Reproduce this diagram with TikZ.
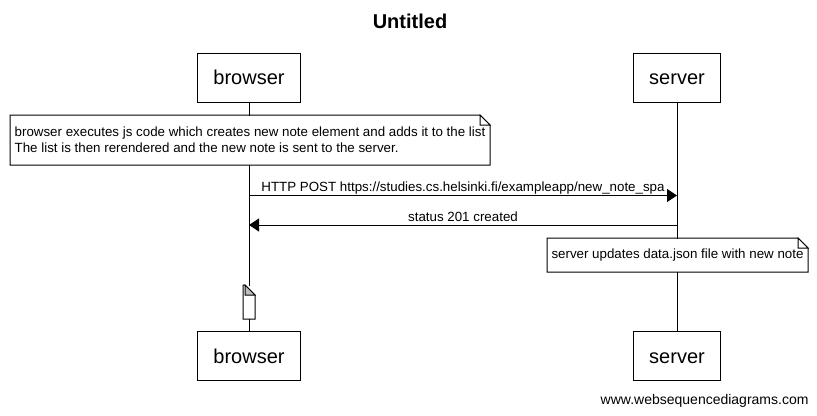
\documentclass[tikz,border=0pt]{standalone}
\usepackage{fontspec}
\setmainfont{Liberation Sans}
\usetikzlibrary{arrows.meta}

\begin{document}
\begin{tikzpicture}[
    x=0.75pt,
    y=-0.75pt,
    line width=0.75pt,
    >={Triangle[length=7.5pt,width=9.75pt]},
    actor/.style={
      draw,
      minimum height=36.75pt,
      inner xsep=11.6pt,
      text height=11pt,
      text depth=0pt,
      font=\fontsize{15}{18}\selectfont
    },
    note/.style={
      anchor=north west,
      fill=white,
      inner xsep=3pt,
      inner ysep=0pt,
      align=left,
      font=\fontsize{10}{12}\selectfont
    },
    lbl/.style={
      midway,
      anchor=base,
      yshift=3pt,
      inner sep=0pt,
      font=\fontsize{10}{12}\selectfont
    }
    ]

    \useasboundingbox (0,0) rectangle (817,415);

    \node [anchor=base, font=\fontsize{15}{18}\bfseries\selectfont] (title) at (410,28) {Untitled};

    \node [actor] (bt) at (249,77.5) {browser};
    \node [actor] (st) at (677,77.5) {server};
    \node [actor] (bb) at (249,356) {browser};
    \node [actor] (sb) at (677,356) {server};

    \draw (bt) -- (bb);
    \draw (st) -- (sb);

    \node [note, minimum width=359.25pt, minimum height=36.75pt] (na) at (10,115)
      {browser executes js code which creates new note element and adds it to the list\\
       The list is then rerendered and the new note is sent to the server.};
    \node [note, minimum width=195pt, minimum height=24.75pt] (nb) at (547,238)
      {server updates data.json file with new note};
    \node [note, minimum width=8.25pt, minimum height=24.75pt, inner sep=0pt] (nc) at (243,285) {};

    \foreach \n/\c in {na/white, nb/white, nc/gray!50} {
      \draw (\n.north west) -- ([xshift=-7.5pt]\n.north east) -- ([yshift=-7.5pt]\n.north east)
        -- (\n.south east) -- (\n.south west) -- cycle;
      \filldraw [fill=\c] ([xshift=-7.5pt]\n.north east) |- ([yshift=-7.5pt]\n.north east) -- cycle;
    }

    \coordinate (b1) at (bt |- 0,195.5);
    \coordinate (s1) at (st |- 0,195.5);
    \coordinate (b2) at (bt |- 0,225);
    \coordinate (s2) at (st |- 0,225);

    \draw [->] (b1) -- node [lbl] {HTTP POST https://studies.cs.helsinki.fi/exampleapp/new\_note\_spa} (s1);
    \draw [->] (s2) -- node [lbl] {status 201 created} (b2);

    \node [anchor=base east, inner sep=0pt, font=\fontsize{10.5}{12}\selectfont] (credit) at (809,404) {www.websequencediagrams.com};

  \end{tikzpicture}
\end{document}
